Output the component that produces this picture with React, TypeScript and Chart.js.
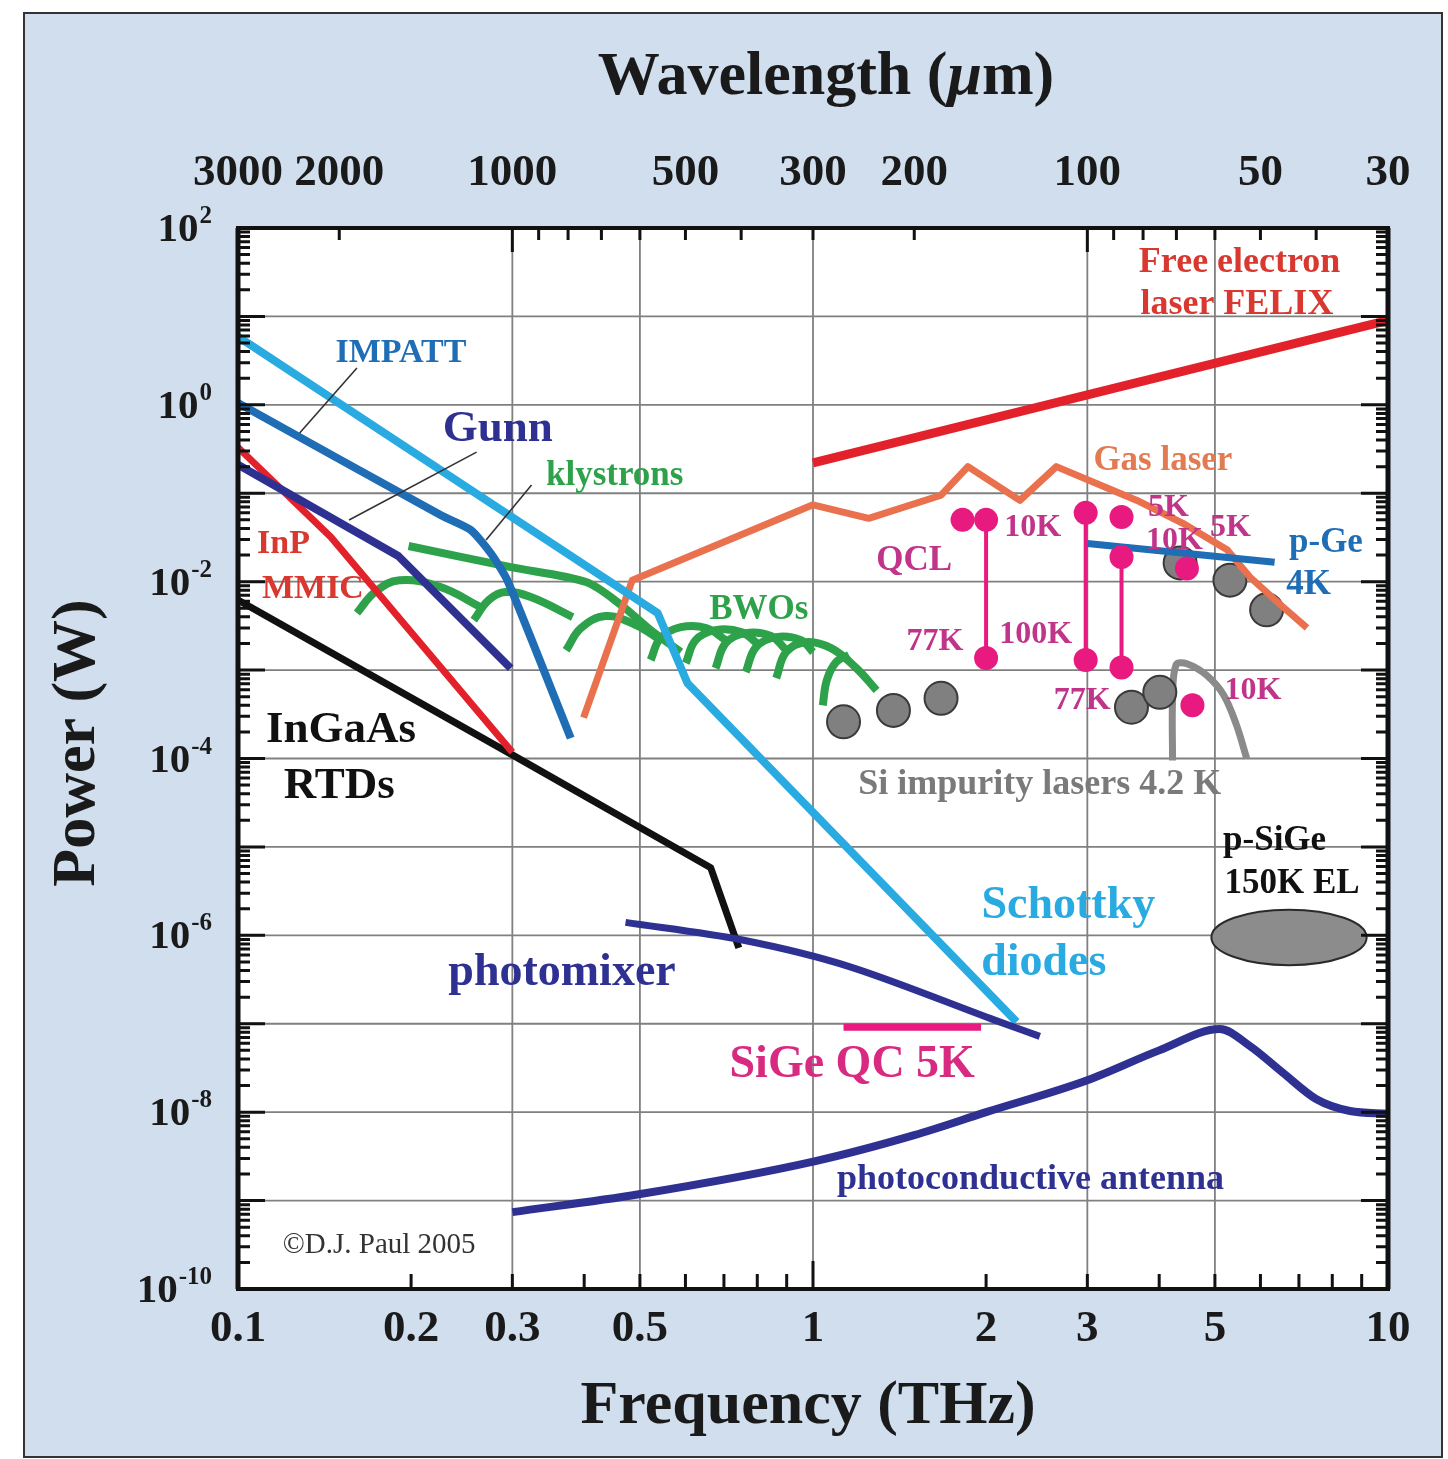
import React, { useEffect, useRef } from 'react';
import { Chart, registerables } from 'chart.js';

Chart.register(...registerables);

const CANVAS_W = 1448;
const CANVAS_H = 1459;

// ---------------- axes ----------------
const FREQ_MIN = 0.1;
const FREQ_MAX = 10;
const POWER_MIN = 1e-10;
const POWER_MAX = 100;
const LIGHT_SPEED_UM_THZ = 300; // wavelength (um) = 300 / f (THz)

const freqTickValues = [0.1, 0.2, 0.3, 0.5, 1, 2, 3, 5, 10];
const freqTickLabels = ['0.1', '0.2', '0.3', '0.5', '1', '2', '3', '5', '10'];
const freqMinorTicks = [0.2, 0.3, 0.4, 0.5, 0.6, 0.7, 0.8, 0.9, 1, 2, 3, 4, 5, 6, 7, 8, 9];
const freqLongTicks = [1];
const wavelengthTickLabels = [3000, 2000, 1000, 500, 300, 200, 100, 50, 30];
const wavelengthMinorTicks = [2000, 1000, 900, 800, 700, 600, 500, 400, 300, 200, 100, 90, 80, 70, 60, 50, 40];
const wavelengthLongTicks = [1000, 100];
const powerLabelExps = [2, 0, -2, -4, -6, -8, -10];
const powerGridExps = [-9, -8, -7, -6, -5, -4, -3, -2, -1, 0, 1];
const verticalGridFreqs = [0.3, 0.5, 1, 3, 5];

// ---------------- series: [frequency THz, power W] ----------------
const felix = [[1.0, 0.22], [10, 9.0]];
const gasLaser = [
  [0.399, 2.9e-4], [0.485, 0.0104], [1.0, 0.074], [1.25, 0.052], [1.67, 0.095], [1.86, 0.2],
  [2.29, 0.083], [2.65, 0.2], [3.66, 0.083], [4.39, 0.046], [5.25, 0.023], [5.75, 0.0113],
  [6.56, 0.0052], [7.23, 0.003],
];
const schottky = [[0.1, 5.9], [0.537, 0.0044], [0.605, 7.1e-4], [2.26, 1.05e-7]];
const impatt = [[0.1, 1.05], [0.225, 0.0566], [0.254, 0.0384], [0.275, 0.0211], [0.294, 0.0104], [0.379, 1.7e-4]];
const gunn = [[0.1, 0.21], [0.19, 0.0195], [0.298, 1.05e-3]];
const inpMmic = [[0.1, 0.33], [0.145, 0.032], [0.3, 1.18e-4]];
const ingaasRtd = [[0.1, 0.0062], [0.3, 1.1e-4], [0.664, 5.8e-6], [0.743, 7.2e-7]];
const photomixer = [[0.472, 1.4e-6], [0.75, 8.9e-7], [1.16, 4.4e-7], [2.07, 1.1e-7], [2.48, 7.2e-8]];
const photoconductive = [
  [0.3, 7.4e-10], [0.498, 1.18e-9], [1.01, 2.8e-9], [1.5, 5.5e-9], [2.0, 1.0e-8], [3.0, 2.3e-8],
  [4.0, 5.0e-8], [5.1, 8.7e-8], [5.75, 5.6e-8], [6.56, 2.8e-8], [7.51, 1.4e-8], [8.59, 1.03e-8], [10, 9.6e-9],
];
const sigeQc = [[1.13, 9.1e-8], [1.96, 9.1e-8]];
const pGe = [[3.0, 0.027], [6.35, 0.0166]];

const klystronMain = [[0.198, 0.0253], [0.298, 0.0146], [0.403, 0.00989], [0.464, 0.00543], [0.522, 0.00283], [0.589, 0.0016]];
const klystronArcA = [[0.161, 0.00442], [0.173, 0.00762], [0.191, 0.0104], [0.225, 0.00869], [0.264, 0.00516]];
const klystronArcB = [[0.257, 0.00368], [0.273, 0.0062], [0.292, 0.00762], [0.323, 0.0067], [0.382, 0.00398]];
const bwoArcC = [[0.372, 0.00168], [0.395, 0.00299], [0.436, 0.00408], [0.492, 0.00323], [0.543, 0.00218]];
const bwoArcD = [[0.522, 0.0013], [0.543, 0.0023], [0.589, 0.00306], [0.652, 0.00299], [0.705, 0.00218]];
const bwoArcE = [[0.601, 0.0012], [0.625, 0.00218], [0.677, 0.00283], [0.75, 0.00269], [0.806, 0.00192]];
const bwoArcF = [[0.677, 0.00105], [0.705, 0.00202], [0.764, 0.00262], [0.845, 0.00243], [0.898, 0.00168]];
const bwoArcG = [[0.764, 0.00095], [0.796, 0.00182], [0.863, 0.00236], [0.953, 0.00218], [1.0, 0.0016]];
const bwoArcH = [[0.863, 0.00081], [0.898, 0.0016], [0.972, 0.00207], [1.075, 0.00177], [1.19, 0.00105], [1.29, 0.00059]];
const bwoArcI = [[1.04, 0.0004], [1.057, 0.00077], [1.097, 0.00123], [1.155, 0.00148]];

const qcl2THz = [[2.0, 0.05], [2.0, 1.37e-3]];
const qcl3THz = [[2.98, 0.06], [2.98, 1.3e-3]];
const qcl34THz = [[3.44, 0.019], [3.44, 1.07e-3]];
const qclSingles = [[1.82, 0.05], [3.44, 0.054], [4.47, 0.0141], [4.57, 4.0e-4]];

const siImpurityDots = [
  [1.13, 2.6e-4], [1.38, 3.5e-4], [1.67, 4.8e-4], [3.58, 3.8e-4], [4.01, 5.6e-4],
  [4.35, 0.0163], [5.31, 0.0104], [6.15, 4.8e-3],
];
const siImpurityArc = [[4.22, 9.5e-5], [4.22, 4.6e-4], [4.28, 1.15e-3], [4.47, 1.18e-3], [4.84, 8.7e-4], [5.18, 5.2e-4], [5.45, 2.4e-4], [5.68, 1.0e-4]];

const pSiGeFreqRange = [4.93, 9.18];
const pSiGePowerRange = [4.6e-7, 1.95e-6];

const leaderImpatt = [[0.161, 2.61], [0.128, 0.48]];
const leaderGunn = [[0.26, 0.292], [0.156, 0.0498]];
const leaderKlystron = [[0.324, 0.124], [0.27, 0.0296]];

// ---------------- styles ----------------
const PANEL_BG = '#d0deee';
const GRID_COLOR = '#808080';
const C_RED = '#e3212b';
const C_RED_TXT = '#d8382f';
const C_ORANGE = '#ea714d';
const C_ORANGE_TXT = '#e27a52';
const C_CYAN = '#29abe2';
const C_BLUE = '#1f6db5';
const C_NAVY = '#2e3192';
const C_GREEN = '#2ea24a';
const C_MAGENTA = '#e8197f';
const C_MAGENTA_TXT = '#c0348a';
const C_GRAY = '#8a8a8a';
const C_GRAY_TXT = '#7a7a7a';
const C_BLACK = '#111111';
const SERIF = '"Liberation Serif", "Times New Roman", Times, serif';

const labelLayout = [
  { text: 'Free electron', f: 5.52, p: 43.5, color: C_RED_TXT, size: 36 },
  { text: 'laser FELIX', f: 5.46, p: 14.6, color: C_RED_TXT, size: 36 },
  { text: 'IMPATT', f: 0.192, p: 4.06, color: C_BLUE, size: 34 },
  { text: 'Gunn', f: 0.283, p: 0.575, color: C_NAVY, size: 45 },
  { text: 'klystrons', f: 0.452, p: 0.169, color: C_GREEN, size: 35 },
  { text: 'InP', f: 0.12, p: 0.028, color: C_RED_TXT, size: 34 },
  { text: 'MMIC', f: 0.135, p: 0.0087, color: C_RED_TXT, size: 34 },
  { text: 'InGaAs', f: 0.151, p: 2.26e-4, color: C_BLACK, size: 45 },
  { text: 'RTDs', f: 0.15, p: 5.27e-5, color: C_BLACK, size: 45 },
  { text: 'BWOs', f: 0.805, p: 5.16e-3, color: C_GREEN, size: 35 },
  { text: 'Gas laser', f: 4.06, p: 0.25, color: C_ORANGE_TXT, size: 35 },
  { text: 'QCL', f: 1.5, p: 0.0185, color: C_MAGENTA_TXT, size: 35 },
  { text: '10K', f: 2.41, p: 0.0437, color: C_MAGENTA_TXT, size: 32 },
  { text: '77K', f: 1.63, p: 2.24e-3, color: C_MAGENTA_TXT, size: 32 },
  { text: '100K', f: 2.44, p: 2.69e-3, color: C_MAGENTA_TXT, size: 32 },
  { text: '77K', f: 2.94, p: 4.82e-4, color: C_MAGENTA_TXT, size: 32 },
  { text: '5K', f: 4.15, p: 0.0736, color: C_MAGENTA_TXT, size: 32 },
  { text: '10K', f: 4.25, p: 0.0311, color: C_MAGENTA_TXT, size: 32 },
  { text: '5K', f: 5.32, p: 0.0437, color: C_MAGENTA_TXT, size: 32 },
  { text: '10K', f: 5.82, p: 6.25e-4, color: C_MAGENTA_TXT, size: 32 },
  { text: 'p-Ge', f: 7.8, p: 0.0296, color: C_BLUE, size: 35 },
  { text: '4K', f: 7.28, p: 9.89e-3, color: C_BLUE, size: 35 },
  { text: 'Si impurity lasers 4.2 K', f: 2.48, p: 5.41e-5, color: C_GRAY_TXT, size: 36 },
  { text: 'p-SiGe', f: 6.35, p: 1.26e-5, color: C_BLACK, size: 35 },
  { text: '150K EL', f: 6.81, p: 4.1e-6, color: C_BLACK, size: 35 },
  { text: 'Schottky', f: 2.78, p: 2.31e-6, color: C_CYAN, size: 46 },
  { text: 'diodes', f: 2.52, p: 5.24e-7, color: C_CYAN, size: 46 },
  { text: 'photomixer', f: 0.366, p: 4.04e-7, color: C_NAVY, size: 46 },
  { text: 'SiGe QC 5K', f: 1.17, p: 3.68e-8, color: '#d92a82', size: 46 },
  { text: 'photoconductive antenna', f: 2.39, p: 1.84e-9, color: C_NAVY, size: 36 },
  { text: '\u00A9D.J. Paul 2005', f: 0.176, p: 3.3e-10, color: '#333333', size: 29, normal: true },
];

const toXY = (pts: number[][]) => pts.map(([x, y]) => ({ x, y }));

function lineSet(pts: number[][], color: string, width: number, extra: any = {}) {
  return {
    data: toXY(pts),
    showLine: true,
    borderColor: color,
    backgroundColor: color,
    borderWidth: width,
    pointRadius: 0,
    pointHoverRadius: 0,
    tension: 0,
    fill: false,
    borderJoinStyle: 'round',
    ...extra,
  };
}

function buildDatasets() {
  const bottomToTop: any[] = [];
  const greens = [klystronArcA, klystronArcB, bwoArcC, bwoArcD, bwoArcE, bwoArcF, bwoArcG, bwoArcH, bwoArcI];
  greens.forEach((g) => bottomToTop.push(lineSet(g, C_GREEN, 8, { tension: 0.4 })));
  bottomToTop.push(lineSet(klystronMain, C_GREEN, 8, { tension: 0.3 }));
  bottomToTop.push(lineSet(siImpurityArc, C_GRAY, 7, { tension: 0.35 }));
  bottomToTop.push({
    data: toXY(siImpurityDots), showLine: false, pointRadius: 16.5, pointHoverRadius: 16.5,
    pointBackgroundColor: '#808080', pointBorderColor: '#3a3a3a', pointBorderWidth: 2,
  });
  bottomToTop.push(lineSet(gasLaser, C_ORANGE, 7));
  bottomToTop.push(lineSet(felix, C_RED, 9));
  bottomToTop.push(lineSet(ingaasRtd, C_BLACK, 7));
  bottomToTop.push(lineSet(inpMmic, C_RED, 7));
  bottomToTop.push(lineSet(gunn, C_NAVY, 8));
  bottomToTop.push(lineSet(impatt, C_BLUE, 8, { tension: 0.2 }));
  bottomToTop.push(lineSet(schottky, C_CYAN, 8));
  bottomToTop.push(lineSet(photomixer, C_NAVY, 7, { tension: 0.3 }));
  bottomToTop.push(lineSet(photoconductive, C_NAVY, 8, { cubicInterpolationMode: 'monotone' }));
  bottomToTop.push(lineSet(pGe, C_BLUE, 7));
  [qcl2THz, qcl3THz, qcl34THz].forEach((q) =>
    bottomToTop.push(lineSet(q, C_MAGENTA, 4, {
      pointRadius: 12, pointHoverRadius: 12, pointBackgroundColor: C_MAGENTA, pointBorderColor: C_MAGENTA, pointBorderWidth: 0,
    }))
  );
  bottomToTop.push({
    data: toXY(qclSingles), showLine: false, pointRadius: 12, pointHoverRadius: 12,
    pointBackgroundColor: C_MAGENTA, pointBorderColor: C_MAGENTA, pointBorderWidth: 0,
  });
  bottomToTop.push(lineSet(sigeQc, C_MAGENTA, 7));
  [leaderImpatt, leaderGunn, leaderKlystron].forEach((l) => bottomToTop.push(lineSet(l, '#333333', 1.6)));
  const n = bottomToTop.length;
  return bottomToTop.map((d, i) => ({ ...d, order: n - i }));
}

const decorPlugin = {
  id: 'thzDecor',
  beforeDraw(chart: any) {
    const { ctx, chartArea: a } = chart;
    ctx.save();
    ctx.fillStyle = '#ffffff';
    ctx.fillRect(0, 0, CANVAS_W, CANVAS_H);
    ctx.fillStyle = PANEL_BG;
    ctx.fillRect(24, 13, 1418, 1444);
    ctx.strokeStyle = '#333333';
    ctx.lineWidth = 2;
    ctx.strokeRect(24, 13, 1418, 1444);
    ctx.fillStyle = '#ffffff';
    ctx.fillRect(a.left, a.top, a.right - a.left, a.bottom - a.top);
    ctx.restore();
  },
  beforeDatasetsDraw(chart: any) {
    const { ctx, chartArea: a, scales } = chart;
    const xs = scales.x;
    const ys = scales.y;
    ctx.save();
    ctx.strokeStyle = GRID_COLOR;
    ctx.lineWidth = 1.8;
    ctx.beginPath();
    for (const f of verticalGridFreqs) {
      const x = xs.getPixelForValue(f);
      ctx.moveTo(x, a.top);
      ctx.lineTo(x, a.bottom);
    }
    for (const e of powerGridExps) {
      const y = ys.getPixelForValue(Math.pow(10, e));
      ctx.moveTo(a.left, y);
      ctx.lineTo(a.right, y);
    }
    ctx.stroke();
    const x1 = xs.getPixelForValue(pSiGeFreqRange[0]);
    const x2 = xs.getPixelForValue(pSiGeFreqRange[1]);
    const y1 = ys.getPixelForValue(pSiGePowerRange[1]);
    const y2 = ys.getPixelForValue(pSiGePowerRange[0]);
    ctx.beginPath();
    ctx.ellipse((x1 + x2) / 2, (y1 + y2) / 2, (x2 - x1) / 2, (y2 - y1) / 2, 0, 0, Math.PI * 2);
    ctx.fillStyle = '#8c8c8c';
    ctx.fill();
    ctx.strokeStyle = '#2a2a2a';
    ctx.lineWidth = 2;
    ctx.stroke();
    ctx.restore();
  },
  afterDatasetsDraw(chart: any) {
    const { ctx, chartArea: a, scales } = chart;
    const xs = scales.x;
    const ys = scales.y;
    ctx.save();

    // annotations
    ctx.textAlign = 'center';
    ctx.textBaseline = 'alphabetic';
    for (const l of labelLayout) {
      ctx.font = `${l.normal ? '' : 'bold '}${l.size}px ${SERIF}`;
      ctx.fillStyle = l.color;
      ctx.fillText(l.text, xs.getPixelForValue(l.f), ys.getPixelForValue(l.p) + 0.33 * l.size);
    }

    // frame
    ctx.strokeStyle = '#111111';
    ctx.lineWidth = 4;
    ctx.strokeRect(a.left, a.top, a.right - a.left, a.bottom - a.top);
    ctx.lineWidth = 5;
    ctx.beginPath();
    ctx.moveTo(a.left, a.top);
    ctx.lineTo(a.left, a.bottom);
    ctx.moveTo(a.right, a.top);
    ctx.lineTo(a.right, a.bottom);
    ctx.stroke();

    // ticks
    ctx.lineWidth = 3;
    ctx.beginPath();
    for (let e = -10; e < 2; e++) {
      for (let k = 1; k <= 9; k++) {
        const y = ys.getPixelForValue(k * Math.pow(10, e));
        const len = k === 1 ? 27 : 12;
        ctx.moveTo(a.left, y);
        ctx.lineTo(a.left + len, y);
        ctx.moveTo(a.right, y);
        ctx.lineTo(a.right - len, y);
      }
    }
    for (const f of freqMinorTicks) {
      const x = xs.getPixelForValue(f);
      const len = freqLongTicks.includes(f) ? 28 : 15;
      ctx.moveTo(x, a.bottom);
      ctx.lineTo(x, a.bottom - len);
    }
    for (const lam of wavelengthMinorTicks) {
      const x = xs.getPixelForValue(LIGHT_SPEED_UM_THZ / lam);
      const len = wavelengthLongTicks.includes(lam) ? 24 : 12;
      ctx.moveTo(x, a.top);
      ctx.lineTo(x, a.top + len);
    }
    ctx.stroke();

    // tick labels
    ctx.fillStyle = '#1a1a1a';
    ctx.textAlign = 'center';
    ctx.font = `bold 45px ${SERIF}`;
    freqTickValues.forEach((f, i) => {
      ctx.fillText(freqTickLabels[i], xs.getPixelForValue(f), a.bottom + 52);
    });
    wavelengthTickLabels.forEach((lam) => {
      ctx.fillText(String(lam), xs.getPixelForValue(LIGHT_SPEED_UM_THZ / lam), a.top - 43);
    });
    ctx.textAlign = 'right';
    for (const e of powerLabelExps) {
      const y = ys.getPixelForValue(Math.pow(10, e));
      const rightEdge = a.left - 26;
      ctx.font = `bold 25px ${SERIF}`;
      const sup = String(e);
      const supW = ctx.measureText(sup).width;
      ctx.fillText(sup, rightEdge, y - 5);
      ctx.font = `bold 41px ${SERIF}`;
      ctx.fillText('10', rightEdge - supW - 1, y + 13);
    }

    // axis titles
    ctx.textAlign = 'left';
    const p1 = 'Wavelength (';
    const p2 = '\u03BC';
    const p3 = 'm)';
    ctx.font = `bold 62px ${SERIF}`;
    const w1 = ctx.measureText(p1).width;
    const w3 = ctx.measureText(p3).width;
    ctx.font = `italic bold 62px ${SERIF}`;
    const w2 = ctx.measureText(p2).width;
    const x0 = 826 - (w1 + w2 + w3) / 2;
    ctx.font = `bold 62px ${SERIF}`;
    ctx.fillText(p1, x0, 94);
    ctx.font = `italic bold 62px ${SERIF}`;
    ctx.fillText(p2, x0 + w1, 94);
    ctx.font = `bold 62px ${SERIF}`;
    ctx.fillText(p3, x0 + w1 + w2, 94);

    ctx.textAlign = 'center';
    ctx.font = `bold 62px ${SERIF}`;
    ctx.fillText('Frequency (THz)', 808, 1423);

    ctx.save();
    ctx.translate(94, 743);
    ctx.rotate(-Math.PI / 2);
    ctx.font = `bold 62px ${SERIF}`;
    ctx.fillText('Power (W)', 0, 0);
    ctx.restore();

    ctx.restore();
  },
};

export default function App() {
  const ref = useRef<HTMLCanvasElement>(null);
  useEffect(() => {
    const canvas = ref.current;
    if (!canvas) return;
    const chart = new Chart(canvas, {
      type: 'scatter',
      data: { datasets: buildDatasets() as any },
      options: {
        responsive: false,
        animation: false,
        devicePixelRatio: 1,
        events: [],
        layout: { padding: { left: 238, right: 60, top: 228, bottom: 170 } },
        scales: {
          x: { type: 'logarithmic', min: FREQ_MIN, max: FREQ_MAX, display: false },
          y: { type: 'logarithmic', min: POWER_MIN, max: POWER_MAX, display: false },
        },
        plugins: { legend: { display: false }, tooltip: { enabled: false } },
      } as any,
      plugins: [decorPlugin as any],
    });
    return () => chart.destroy();
  }, []);
  return (
    <div style={{ position: 'absolute', left: 0, top: 0, width: CANVAS_W, height: CANVAS_H }}>
      <canvas ref={ref} width={CANVAS_W} height={CANVAS_H} style={{ display: 'block' }} />
    </div>
  );
}
